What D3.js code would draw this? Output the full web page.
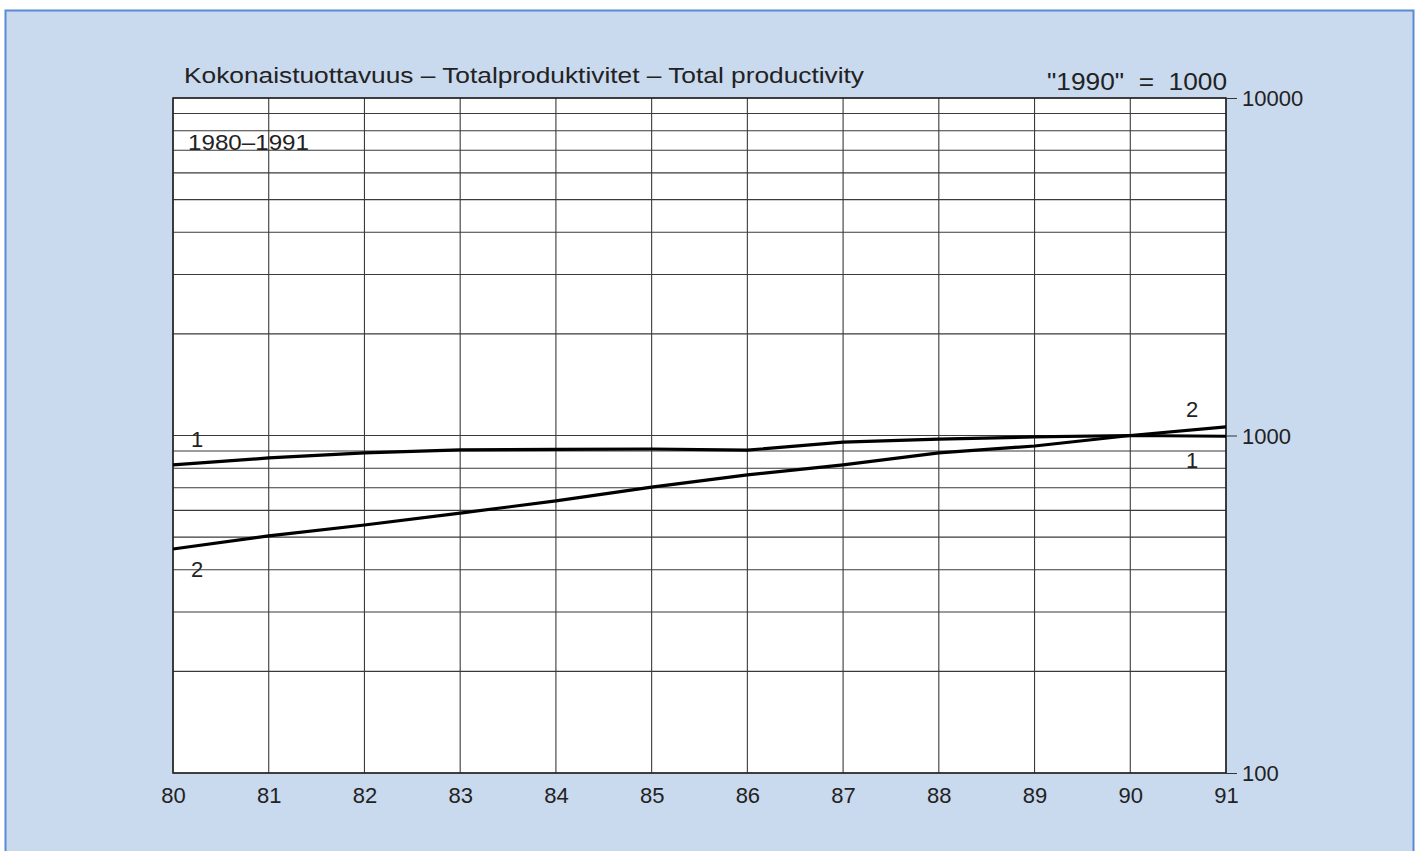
<!DOCTYPE html>
<html><head><meta charset="utf-8">
<script src="https://cdn.jsdelivr.net/npm/d3@7/dist/d3.min.js"></script>
<style>
html,body{margin:0;padding:0;background:#fff;}
svg{display:block;font-family:"Liberation Sans","DejaVu Sans",sans-serif;}
</style></head>
<body>
<svg id="chart" width="1421" height="851"></svg>
<script>
const years = [80,81,82,83,84,85,86,87,88,89,90,91];
const series1 = [818,858,888,906,910,912,905,956,976,990,1000,995];
const series2 = [461,504,543,589,640,703,764,818,888,931,1000,1060];
const yTickLabels = [100,1000,10000];
const title = "Kokonaistuottavuus \u2013 Totalproduktivitet \u2013 Total productivity";
const subtitle = "1980\u20131991";
const baseNote = "\"1990\"  =  1000";

const svg = d3.select("#chart");
svg.append("rect").attr("x",5.5).attr("y",10.5).attr("width",1408).attr("height",850)
  .attr("fill","#c9d9ee").attr("stroke","#5a8ad4").attr("stroke-width",2);

const m = {left:173,right:1226,top:98,bottom:773};
const x = d3.scaleLinear().domain([80,91]).range([m.left,m.right]);
const y = d3.scaleLog().domain([100,10000]).range([m.bottom,m.top]);

svg.append("rect").attr("x",m.left).attr("y",m.top).attr("width",m.right-m.left).attr("height",m.bottom-m.top).attr("fill","#fff");

const gridVals = [];
[100,1000].forEach(b=>{for(let k=1;k<=10;k++) gridVals.push(b*k);});
const g = svg.append("g");
g.selectAll("line.h").data(gridVals).join("line")
  .attr("x1",m.left).attr("x2",m.right)
  .attr("y1",d=>y(d)).attr("y2",d=>y(d))
  .attr("stroke","#3a3a3a").attr("stroke-width",1.1);
g.selectAll("line.v").data(years).join("line")
  .attr("x1",d=>x(d)).attr("x2",d=>x(d))
  .attr("y1",m.top).attr("y2",m.bottom)
  .attr("stroke","#3a3a3a").attr("stroke-width",1.1);
svg.append("rect").attr("x",m.left).attr("y",m.top).attr("width",m.right-m.left).attr("height",m.bottom-m.top)
  .attr("fill","none").attr("stroke","#222").attr("stroke-width",1.5);

const yAxis = d3.axisRight(y).tickValues(yTickLabels).tickFormat(d3.format("d")).tickSize(11).tickPadding(5);
const ya = svg.append("g").attr("transform",`translate(${m.right},0)`).call(yAxis);
ya.select(".domain").remove();
ya.selectAll("line").attr("stroke","#333");
ya.selectAll("text").attr("font-size",22).attr("fill","#222").attr("dy","0.36em");

const xAxis = d3.axisBottom(x).tickValues(years).tickFormat(d=>d).tickSize(0).tickPadding(14);
const xa = svg.append("g").attr("transform",`translate(0,${m.bottom})`).call(xAxis);
xa.select(".domain").remove();
xa.selectAll("text").attr("font-size",22).attr("fill","#222");

const line = d3.line().x((d,i)=>x(years[i])).y(d=>y(d));
[series1,series2].forEach(s=>{
  svg.append("path").datum(s).attr("d",line).attr("fill","none")
    .attr("stroke","#000").attr("stroke-width",3.2).attr("stroke-linejoin","round");
});

svg.append("text").attr("x",184).attr("y",83).attr("font-size",22).attr("fill","#222")
  .attr("textLength",680).attr("lengthAdjust","spacingAndGlyphs").text(title);
svg.append("text").attr("x",188).attr("y",150).attr("font-size",22).attr("fill","#222")
  .attr("textLength",121).attr("lengthAdjust","spacingAndGlyphs").text(subtitle);
svg.append("text").attr("x",1047).attr("y",90).attr("font-size",23).attr("fill","#222").attr("xml:space","preserve")
  .attr("textLength",180).attr("lengthAdjust","spacingAndGlyphs").text(baseNote);

const lab = [
  {t:"1", x:x(80)+24, yv:series1[0], dy:-18},
  {t:"2", x:x(80)+24, yv:series2[0], dy:28},
  {t:"2", x:x(91)-34, yv:series2[11], dy:-10},
  {t:"1", x:x(91)-34, yv:series1[11], dy:32},
];
svg.selectAll("text.lab").data(lab).join("text").attr("class","lab")
  .attr("x",d=>d.x).attr("y",d=>y(d.yv)+d.dy).attr("text-anchor","middle")
  .attr("font-size",22).attr("fill","#222").text(d=>d.t);
</script>
</body></html>
